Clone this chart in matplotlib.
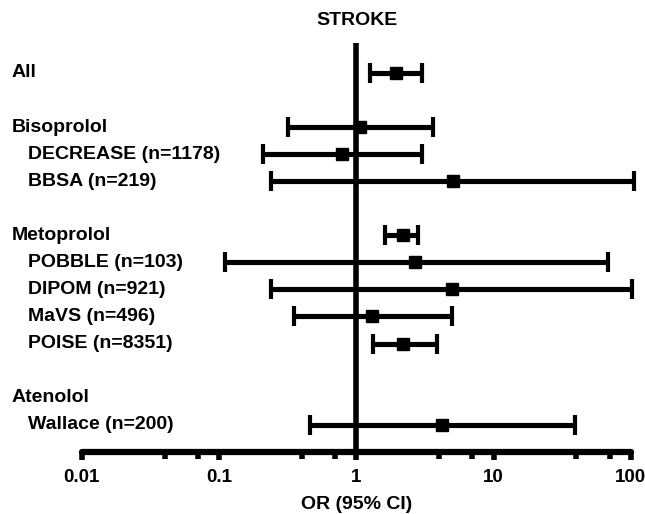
import matplotlib

matplotlib.use('Agg')
import matplotlib.pyplot as plt
import matplotlib.transforms as mtransforms
import numpy as np

plt.rcParams['font.family'] = ['Liberation Sans', 'DejaVu Sans']
plt.rcParams['font.weight'] = 'bold'

# rows: label, indent, OR, lower, upper (None = header only)
labels = ["All", "Bisoprolol", "DECREASE (n=1178)", "BBSA (n=219)",
          "Metoprolol", "POBBLE (n=103)", "DIPOM (n=921)", "MaVS (n=496)",
          "POISE (n=8351)", "Atenolol", "Wallace (n=200)"]
rows = [0, 2, 3, 4, 6, 7, 8, 9, 10, 12, 13]
indent = [0, 0, 1, 1, 0, 1, 1, 1, 1, 0, 1]
odds = [1.96, 1.07, 0.79, 5.1, 2.2, 2.66, 5.0, 1.29, 2.17, None, 4.2]
lower = [1.25, 0.32, 0.21, 0.24, 1.63, 0.11, 0.24, 0.35, 1.33, None, 0.46]
upper = [3.0, 3.6, 3.0, 105, 2.8, 68, 102, 5.0, 3.9, None, 39]

fig = plt.figure(figsize=(6.45, 5.14), dpi=100)
ax = fig.add_axes([0.127, 0.121, 0.851, 0.795])
ax.set_xscale('log')
ax.set_xlim(0.01, 100)
ax.set_ylim(14, -1.1)

ax.axvline(1, color='black', lw=4, zorder=1, solid_capstyle='round')

for r, m, lo, hi in zip(rows, odds, lower, upper):
    if m is None:
        continue
    eb = ax.errorbar([m], [r], xerr=[[m - lo], [hi - m]], fmt='s', color='black',
                     ms=9, lw=3.7, capsize=7, capthick=3, zorder=3)
    for art in eb.lines[1] + eb.lines[2]:
        art.set_clip_on(False)
    eb.lines[0].set_clip_on(False)

trans = mtransforms.blended_transform_factory(fig.transFigure, ax.transData)
for lab, r, ind in zip(labels, rows, indent):
    x = 0.018 if ind == 0 else 0.043
    ax.text(x, r, lab, transform=trans, fontsize=14, fontweight='bold',
            va='center', ha='left')

for s in ['top', 'right', 'left']:
    ax.spines[s].set_visible(False)
ax.spines['bottom'].set_linewidth(4.5)
ax.spines['bottom'].set_capstyle('round')
ax.set_yticks([])

ax.set_xticks([0.01, 0.1, 1, 10, 100])
ax.set_xticklabels(["0.01", "0.1", "1", "10", "100"])
ax.set_xticks([0.04, 0.07, 0.4, 0.7, 4, 7, 40, 70], minor=True)
ax.tick_params(axis='x', which='major', direction='out', length=5.5, width=4,
               labelsize=13.5, pad=7)
ax.tick_params(axis='x', which='minor', direction='out', length=5, width=4)

ax.set_xlabel("OR (95% CI)", fontsize=14, fontweight='bold', labelpad=7)
fig.text(0.553, 0.961, "STROKE", fontsize=14, fontweight='bold',
         ha='center', va='center')

fig.savefig('out.png', dpi=100)
